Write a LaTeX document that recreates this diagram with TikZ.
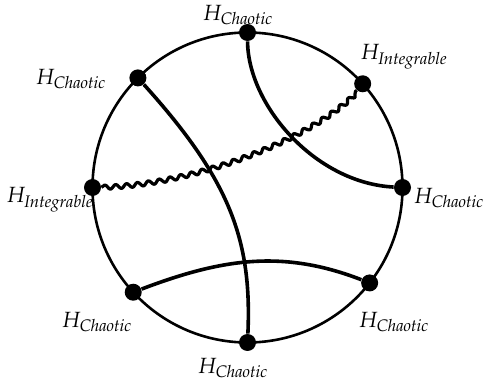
\documentclass[tikz,border=0pt]{standalone}
\usepackage{mathpazo}
\usetikzlibrary{decorations.pathmorphing,calc}
\begin{document}
\begin{tikzpicture}[x=0.5pt,y=0.5pt,
  dot/.style={circle,fill=black,inner sep=0pt,minimum size=8.5pt},
  chord/.style={line width=1.8pt},
  wave/.style={line width=1.6pt,line join=round,decorate,decoration={snake,segment length=5.5pt,amplitude=1.1pt}},
  lab/.style={inner sep=0pt,font=\fontsize{11}{13}\selectfont}]
\useasboundingbox (0,0) rectangle (483,-385);
\coordinate (c) at (247.5,-187.5);
\draw[line width=1.3pt] (c) circle (155);
% dots
\node[dot] (t)  at ($(c)+(90:155)$) {};
\node[dot] (ul) at ($(c)+(135:155)$) {};
\node[dot] (ur) at ($(c)+(42:155)$) {};
\node[dot] (l)  at ($(c)+(180:155)$) {};
\node[dot] (r)  at ($(c)+(0:155)$) {};
\node[dot] (ll) at ($(c)+(222.5:155)$) {};
\node[dot] (lr) at ($(c)+(322:155)$) {};
\node[dot] (b)  at ($(c)+(270:155)$) {};
% connectors
\draw[chord] (t) .. controls (248,-105) and (315,-183) .. (r);
\draw[chord] (ul) .. controls (230,-180) and (252,-240) .. (b);
\draw[chord] (ll) .. controls (221,-259) and (282,-249) .. (lr);
\draw[wave] (l) .. controls (190,-185) and (310,-140) .. (ur);
% labels
\node[lab] (Lt)  at (238,-15)  {$H_{\mathit{Chaotic}}$};
\node[lab] (Lul) at (71,-79)   {$H_{\mathit{Chaotic}}$};
\node[lab] (Lur) at (404,-57)  {$H_{\mathit{Integrable}}$};
\node[lab] (Ll)  at (50,-200)  {$H_{\mathit{Integrable}}$};
\node[lab] (Lr)  at (449,-198) {$H_{\mathit{Chaotic}}$};
\node[lab] (Lll) at (97,-322)  {$H_{\mathit{Chaotic}}$};
\node[lab] (Llr) at (394,-322) {$H_{\mathit{Chaotic}}$};
\node[lab] (Lb)  at (233,-368) {$H_{\mathit{Chaotic}}$};
\end{tikzpicture}
\end{document}
